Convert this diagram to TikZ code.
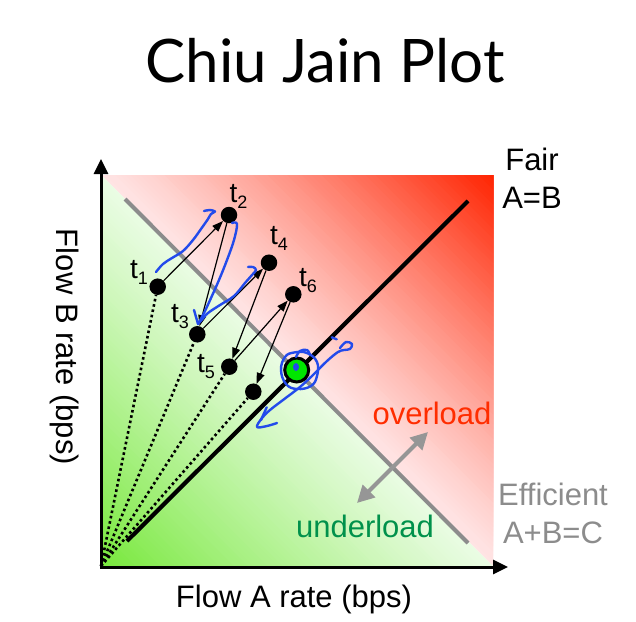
\documentclass[tikz,border=0pt]{standalone}
\usepackage{fontspec}
\setmainfont{Liberation Sans}
\newfontfamily\titlefont{Lato}
\usetikzlibrary{arrows.meta}
\definecolor{pinklight}{RGB}{255,228,228}
\definecolor{redcorner}{RGB}{255,35,0}
\definecolor{greenlight}{RGB}{234,252,228}
\definecolor{greencorner}{RGB}{120,232,60}
\definecolor{effgray}{RGB}{140,140,140}
\definecolor{arrgray}{RGB}{150,150,150}
\definecolor{scrib}{RGB}{35,75,235}
\definecolor{overred}{RGB}{255,45,0}
\definecolor{undergreen}{RGB}{0,145,75}
\definecolor{dotgreen}{RGB}{0,230,0}
\newcommand\tlab[1]{{\fontsize{28}{28}\selectfont t}\raisebox{-6pt}{\fontsize{18}{18}\selectfont #1}}
\tikzset{
  dot/.style={circle,fill=black,inner sep=0pt,minimum size=16.5pt},
  dotline/.style={line width=2.6pt,dash pattern=on 2.6pt off 2.8pt},
  stepar/.style={line width=1.2pt,-{Triangle[length=11pt,width=8pt]}},
  scribble/.style={draw=scrib,line width=2.4pt,line cap=round,line join=round},
  tl/.style={inner sep=0pt,anchor=center},
  lab/.style={inner sep=0pt,font=\fontsize{31}{31}\selectfont}
}
\begin{document}
\begin{tikzpicture}[x=1pt,y=-1pt]
\useasboundingbox (0,0) rectangle (636,621);
% title
\node[inner sep=0pt,anchor=base] (title) at (325,82) {\titlefont\fontsize{60}{60}\selectfont Chiu Jain Plot};
% shaded regions
\foreach \i in {0,...,79}{
  \pgfmathsetmacro\a{\i/80}
  \pgfmathtruncatemacro\p{100*((\i+0.5)/80)^1.15}
  \fill[redcorner!\p!pinklight] (101+392*\a,175) -- (493,175) -- (493,566-391*\a) -- cycle;
  \pgfmathtruncatemacro\q{100*((\i+0.5)/80)^1.1}
  \fill[greencorner!\q!greenlight] (101,175+391*\a) -- (101,566) -- (493-392*\a,566) -- cycle;
}
% efficiency line
\coordinate (e1) at (125,199);
\coordinate (e2) at (468,543);
\draw[effgray,line width=4pt] (e1) -- (e2);
% fairness line
\coordinate (f1) at (127,541);
\coordinate (f2) at (468,201);
\draw[line width=4.2pt] (f1) -- (f2);
% axes
\coordinate (ytip) at (101,159);
\coordinate (O) at (101,567);
\coordinate (xtip) at (508,567);
\draw[line width=3pt,line join=miter,{Triangle[length=15pt,width=14pt]}-{Triangle[length=15pt,width=14pt]}] (ytip) -- (O) -- (xtip);
% gray double arrow
\coordinate (g1) at (357,503);
\coordinate (g2) at (428,432);
\draw[arrgray,line width=4pt,{Triangle[length=17pt,width=17pt]}-{Triangle[length=17pt,width=17pt]}] (g1) -- (g2);
% points
\node[dot] (t1) at (157.7,286.7) {};
\node[dot] (t2) at (229,215) {};
\node[dot] (t3) at (197.3,334.3) {};
\node[dot] (t4) at (269,262.7) {};
\node[dot] (t5) at (229.3,366.7) {};
\node[dot] (t6) at (293.3,294.3) {};
\node[dot] (t7) at (253.3,391.7) {};
\coordinate (o2) at (101,566);
\draw[dotline] (o2) -- (t1);
\draw[dotline] (o2) -- (t3);
\draw[dotline] (o2) -- (t5);
\draw[dotline] (o2) -- (t7);
\draw[stepar] (t1) -- (t2);
\draw[stepar] (t2) -- (t3);
\draw[stepar] (t3) -- (t4);
\draw[stepar] (t4) -- (t5);
\draw[stepar] (t5) -- (t6);
\draw[stepar] (t6) -- (t7);
% equilibrium point
\node[circle,fill=dotgreen,draw=black,line width=3pt,minimum size=24pt,inner sep=0pt] (eq) at (296.7,370) {};
% labels
\node[tl] (l1) at (139,272) {\tlab{1}};
\node[tl] (l2) at (238.5,196) {\tlab{2}};
\node[tl] (l3) at (180,317) {\tlab{3}};
\node[tl] (l4) at (279,238) {\tlab{4}};
\node[tl] (l5) at (206,367) {\tlab{5}};
\node[tl] (l6) at (308,281) {\tlab{6}};
% blue scribbles
\draw[scribble] plot[smooth,tension=0.6] coordinates {(156,272) (163,264) (172,258) (183,251) (193,240) (201,229) (208,219) (211,214) (215,211.5) (210,210) (204,211)};
\draw[scribble] plot[smooth,tension=0.6] coordinates {(232,223) (237,224) (234,240) (227,260) (219,280) (211,298) (204,313) (198,324)};
\draw[scribble] (194,310) -- (198,324) -- (205,316);
\draw[scribble] plot[smooth,tension=0.6] coordinates {(200,321) (208,313) (220,305) (234,296) (245,283) (252,275) (256,270) (253,267) (248,267)};
\draw[scribble] plot[smooth cycle,tension=0.7] coordinates {(281,370) (285,357) (294,352.5) (307,353) (317,362) (317,376) (311,386) (297,389) (286,384)};
\draw[scribble] plot[smooth,tension=0.6] coordinates {(296,357) (300,351) (307,350) (310,355)};
\draw[scribble] plot[smooth,tension=0.6] coordinates {(340,348) (346,342) (352,344) (350,349) (344,350) (338,352) (327,361) (313,375) (300,387) (283,400) (270,410) (262,418) (257,427) (267,426) (277,423)};
\draw[scribble] (331.7,337.3) -- (336.7,339.3);
\draw[scribble] (266.7,407.3) -- (261,420);
\fill[scrib] (296,367) ellipse (3pt and 4pt);
% region texts
\node[lab,text=overred,anchor=base] (over) at (432,424) {overload};
\node[lab,text=undergreen,anchor=base] (under) at (365,537) {underload};
\node[lab,text=effgray,anchor=base] (eff) at (553,505) {Efficient};
\node[lab,text=effgray,anchor=base] (effeq) at (553,543) {A+B=C};
\node[lab,anchor=base] (fair) at (532,170) {Fair};
\node[lab,anchor=base] (faireq) at (532,208) {A=B};
% axis labels
\node[lab,anchor=base] (xlab) at (294,607) {Flow A rate (bps)};
\node[lab,rotate=-90] (ylab) at (65,347) {Flow B rate (bps)};
\end{tikzpicture}
\end{document}
